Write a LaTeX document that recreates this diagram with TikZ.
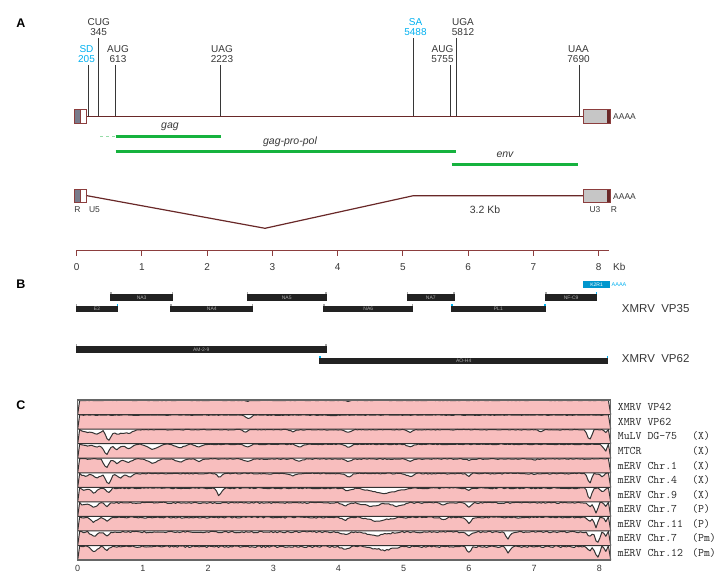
\documentclass[tikz,border=0pt]{standalone}
\usepackage{fontspec}
\setmainfont{Liberation Sans}
\usetikzlibrary{positioning, calc}
\definecolor{rnabrown}{RGB}{105,40,40}
\definecolor{ltrbrown}{RGB}{140,62,62}
\definecolor{orfgreen}{RGB}{22,178,62}
\definecolor{sitecyan}{RGB}{0,176,240}
\definecolor{k2cyan}{RGB}{0,150,205}
\definecolor{txtgrey}{RGB}{55,55,55}
\definecolor{barblack}{RGB}{34,34,34}
\definecolor{trackpink}{RGB}{248,190,190}
\definecolor{ltrgrey}{RGB}{120,124,140}
\tikzset{
  site/.style={draw=txtgrey, line width=0.9pt},
  sitelbl/.style={font=\fontsize{10}{10}\selectfont, text=txtgrey, align=center, inner sep=0pt, anchor=south},
  sdlbl/.style={sitelbl, text=sitecyan},
  rna/.style={draw=rnabrown, line width=1.4pt},
  ltr/.style={draw=ltrbrown, line width=0.8pt},
  orf/.style={draw=orfgreen, line width=3pt},
  orflbl/.style={font=\itshape\fontsize{10.5}{10.5}\selectfont, text=txtgrey, inner sep=0pt},
  small/.style={font=\fontsize{8.5}{9}\selectfont, text=txtgrey, inner sep=0pt},
  ticklbl/.style={font=\fontsize{10}{10}\selectfont, text=txtgrey, inner sep=0pt},
  panel/.style={font=\bfseries\fontsize{12.5}{12.5}\selectfont, inner sep=0pt},
  clonelbl/.style={font=\fontsize{5}{5}\selectfont, text=gray!65, inner sep=0pt},
  virus/.style={font=\fontsize{11.5}{12}\selectfont, text=txtgrey, anchor=west, inner sep=0pt},
  seqlbl/.style={font=\ttfamily\fontsize{11.5}{11.5}\selectfont, text=black!85, anchor=west, inner sep=0pt},
  track/.style={fill=trackpink, draw=black!80, line width=1pt, line join=round},
}
% one clone of panel B: name, x1, x2, top, label, left mark, right mark
\newcommand\clonebar[7]{%
  \fill[barblack] (#2,#4) rectangle (#3,#4+6.5);
  \fill[#6] (#2,#4-2) rectangle ++(1.6,2);
  \fill[#7] (#3,#4-2) rectangle ++(-1.6,2);
  \node[clonelbl] (#1) at ({(#2+#3)/2},{#4+3.4}) {#5};}
% one dip of a similarity track: position (kb), depth (px), half width (kb)
\newcommand\dip[3]{+#2*max(0,1-abs(\x-#1)/#3)}
\newcommand\trackrow[2]{%
  \pgfmathsetmacro\rtop{400+#1*14.55}%
  \pgfmathsetmacro\rbot{\rtop+14.55}%
  \pgfmathsetmacro\rnoise{0.4+0.13*#1}%
  \filldraw[track] (0,\rbot) -- (0.03,\rtop+0.4)
    \foreach \x in {0.06,0.09,...,8.1} { -- (\x,{\rtop+0.3+\rnoise*rnd+min(13.5,0 #2)}) }
    -- (8.14,\rtop+0.4) -- (8.175,\rbot) -- cycle;}

\begin{document}
\begin{tikzpicture}[x=1pt, y=-1pt]
\useasboundingbox (0,0) rectangle (724,578);
\pgfmathsetseed{11}

% A
\node[panel] (lblA) at (21,23) {A};
\draw[rna] (86,116.5) -- (583.3,116.5);
\foreach \px/\top in {88.7/65, 98.7/38.3, 115.7/65, 220.3/65, 413.3/38.3, 450.7/65, 456.7/38.3, 579/65}
  \draw[site] (\px,\top) -- (\px,116.5);
\node[sdlbl] (sd) at (86.5,62.5) {SD\\205};
\node[sitelbl] (cug) at (98.7,36) {CUG\\345};
\node[sitelbl] (aug1) at (118,62.5) {AUG\\613};
\node[sitelbl] (uag) at (222,62.5) {UAG\\2223};
\node[sdlbl] (sa) at (415.5,36) {SA\\5488};
\node[sitelbl] (aug2) at (442.5,62.5) {AUG\\5755};
\node[sitelbl] (uga) at (463,36) {UGA\\5812};
\node[sitelbl] (uaa) at (578.5,62.5) {UAA\\7690};
% LTRs
\fill[ltrgrey] (74.3,109.5) rectangle (80.3,123.5);
\draw[ltr] (74.3,109.5) rectangle (86,123.5);
\draw[ltr] (80.3,109.5) -- (80.3,123.5);
\fill[gray!45] (583.3,109.5) rectangle (606.7,123.5);
\fill[rnabrown] (606.7,109.5) rectangle (610.7,123.5);
\draw[ltr] (583.3,109.5) rectangle (610.7,123.5);
\node[small, anchor=west] (polyA1) at (613,117) {AAAA};
% ORFs
\draw[orfgreen!45, dashed, line width=1pt] (100,136.7) -- (115.7,136.7);
\draw[orf] (115.7,136.7) -- (221,136.7);
\draw[orf] (115.7,151.7) -- (456,151.7);
\draw[orf] (451.7,164.3) -- (578.3,164.3);
\node[orflbl] (gag) at (170,127) {gag};
\node[orflbl] (gpp) at (290,142) {gag-pro-pol};
\node[orflbl] (env) at (505,154.5) {env};
% spliced env mRNA
\draw[rna, line width=1.2pt] (86,195.5) -- (265,228.3) -- (413.3,195.7) -- (583.3,195.7);
\fill[ltrgrey] (74.3,189.3) rectangle (80.3,202);
\draw[ltr] (74.3,189.3) rectangle (86,202);
\draw[ltr] (80.3,189.3) -- (80.3,202);
\fill[gray!45] (583.3,189.5) rectangle (606.7,202.3);
\fill[rnabrown] (606.7,189.5) rectangle (610.7,202.3);
\draw[ltr] (583.3,189.5) rectangle (610.7,202.3);
\node[small, anchor=west] (polyA2) at (613,196.5) {AAAA};
\node[small] (r5) at (77.5,209.5) {R};
\node[small] (u5) at (94.5,209.5) {U5};
\node[small] (u3) at (595,209.5) {U3};
\node[small] (r3) at (614,209.5) {R};
\node[font=\fontsize{10.5}{10.5}\selectfont, text=txtgrey, inner sep=0pt] (len) at (485,210) {3.2 Kb};
% scale
\begin{scope}[xshift=76.7pt, x=65.25pt]
\draw[ltrbrown, line width=1pt] (0,250.3) -- (8.16,250.3);
\foreach \k in {0,...,8} {
  \draw[ltrbrown, line width=1pt] (\k,250.3) -- (\k,256.3);
  \node[ticklbl] (kb\k) at (\k,266.7) {\k};
}
\end{scope}
\node[ticklbl, anchor=west] (kbunit) at (613,266.7) {Kb};

% B
\node[panel] (lblB) at (21,284) {B};
\clonebar{na3}{110}{173.3}{294.3}{NA3}{gray!70}{gray!70}
\clonebar{na5}{246.7}{326.7}{294.3}{NA5}{gray!70}{gray!70}
\clonebar{na7}{406.7}{455}{294.3}{NA7}{gray!70}{gray!70}
\clonebar{nfc9}{545}{597.3}{294.3}{NF-C9}{gray!70}{sitecyan}
\clonebar{e2}{75.7}{118.3}{305.5}{E2}{gray!70}{sitecyan}
\clonebar{na4}{170.3}{253.3}{305.5}{NA4}{gray!70}{gray!70}
\clonebar{na6}{323.3}{413.3}{305.5}{NA6}{gray!70}{gray!70}
\clonebar{pl1}{451}{545.7}{305.5}{PL1}{sitecyan}{sitecyan}
\clonebar{am29}{75.7}{326.7}{346}{AM-2-9}{gray!70}{gray!70}
\clonebar{aoh4}{319}{608.3}{357.5}{AO-H4}{sitecyan}{sitecyan}
\fill[k2cyan] (583.3,281) rectangle (610,287.5);
\node[clonelbl, text=white] (k2r1) at (596.6,284.3) {K2R1};
\node[clonelbl, text=sitecyan, anchor=west, font=\fontsize{5.5}{5.5}\selectfont] (polyA3) at (611.5,284.3) {AAAA};
\node[virus] (vp35) at (621.7,309) {XMRV\ \ VP35};
\node[virus] (vp62) at (621.7,358.3) {XMRV\ \ VP62};

% C
\node[panel] (lblC) at (21,405) {C};
\begin{scope}[xshift=77.7pt, x=65.2pt]
\trackrow{0}{\dip{2.6}{1}{0.05}\dip{4.15}{1}{0.05}}
\trackrow{1}{\dip{2.62}{4}{0.08}\dip{3.9}{0.8}{0.1}}
\trackrow{2}{\dip{0.15}{3}{0.15}\dip{0.3}{4.5}{0.12}\dip{0.47}{12}{0.08}\dip{0.62}{5}{0.14}\dip{0.78}{4}{0.12}\dip{2.57}{2.5}{0.06}\dip{3.3}{2}{0.08}\dip{4.15}{3}{0.1}\dip{5.1}{2.5}{0.08}\dip{7.1}{2}{0.06}\dip{7.85}{11}{0.07}\dip{8.1}{3}{0.05}}
\trackrow{3}{\dip{0.15}{2}{0.1}\dip{0.3}{3}{0.1}\dip{0.44}{11}{0.09}\dip{0.6}{5.5}{0.1}\dip{0.78}{4.5}{0.12}\dip{1.15}{5}{0.17}\dip{1.57}{3.5}{0.14}\dip{1.85}{2.5}{0.1}\dip{2.6}{2.5}{0.1}\dip{3.4}{3}{0.1}\dip{4.15}{3}{0.1}\dip{5.1}{2.5}{0.1}\dip{8.18}{14}{0.16}}
\trackrow{4}{\dip{0.44}{10}{0.08}\dip{0.6}{4.5}{0.1}\dip{0.78}{3.5}{0.12}\dip{1.15}{4.5}{0.14}\dip{1.57}{3.5}{0.12}\dip{1.85}{2.5}{0.08}\dip{2.6}{2.5}{0.1}\dip{3.4}{2.5}{0.1}\dip{4.15}{2.5}{0.1}\dip{5.1}{2}{0.1}\dip{6.0}{1.5}{0.05}\dip{7.0}{1.5}{0.05}}
\trackrow{5}{\dip{0.12}{2.5}{0.12}\dip{0.3}{4.5}{0.12}\dip{0.47}{12}{0.08}\dip{0.65}{4.5}{0.12}\dip{0.8}{3.5}{0.08}\dip{2.17}{4.5}{0.06}\dip{3.3}{2.5}{0.08}\dip{4.15}{3.5}{0.1}\dip{5.1}{3}{0.1}\dip{6.0}{2.5}{0.06}\dip{7.0}{1.5}{0.05}\dip{7.85}{11}{0.06}\dip{8.05}{3.5}{0.05}}
\trackrow{6}{\dip{0.1}{2.5}{0.08}\dip{0.25}{5}{0.1}\dip{0.47}{5}{0.07}\dip{2.17}{8}{0.07}\dip{4.15}{3}{0.1}\dip{4.7}{5.5}{0.4}\dip{6.0}{2.5}{0.06}\dip{7.85}{12}{0.06}\dip{8.05}{4}{0.06}}
\trackrow{7}{\dip{0.1}{2.5}{0.1}\dip{0.25}{5}{0.1}\dip{0.45}{4}{0.07}\dip{4.1}{3}{0.1}\dip{4.5}{3.5}{0.25}\dip{4.9}{3.5}{0.2}\dip{5.6}{2.5}{0.08}\dip{6.0}{5}{0.08}\dip{7.85}{4.5}{0.06}\dip{7.95}{10}{0.06}\dip{8.1}{4}{0.05}}
\trackrow{8}{\dip{0.25}{5}{0.1}\dip{0.45}{4}{0.07}\dip{4.1}{3}{0.1}\dip{4.6}{4}{0.3}\dip{5.6}{2.5}{0.08}\dip{6.0}{6}{0.08}\dip{7.85}{4.5}{0.06}\dip{7.95}{10}{0.06}\dip{8.1}{4}{0.05}}
\trackrow{9}{\dip{0.25}{4.5}{0.1}\dip{0.45}{4}{0.07}\dip{4.1}{3}{0.1}\dip{4.6}{3.5}{0.3}\dip{6.0}{3.5}{0.08}\dip{6.6}{7}{0.07}\dip{7.85}{4.5}{0.06}\dip{7.97}{12}{0.07}\dip{8.1}{4}{0.05}}
\trackrow{10}{\dip{0.25}{5}{0.1}\dip{0.45}{4}{0.07}\dip{4.1}{3}{0.1}\dip{4.7}{3.5}{0.3}\dip{6.0}{6}{0.07}\dip{6.6}{6}{0.07}\dip{7.85}{4.5}{0.06}\dip{7.97}{12}{0.07}\dip{8.1}{4}{0.05}}
\draw[black!60, line width=1.2pt] (0,400) rectangle (8.175,560);
\foreach \k in {0,...,8}
  \node[ticklbl, font=\fontsize{9}{9}\selectfont] (ckb\k) at (\k,568.3) {\k};
\end{scope}
\foreach \i/\nm/\cl in {0/XMRV VP42/, 1/XMRV VP62/, 2/MuLV DG-75/(X), 3/MTCR/(X),
    4/mERV Chr.1/(X), 5/mERV Chr.4/(X), 6/mERV Chr.9/(X), 7/mERV Chr.7/(P),
    8/mERV Chr.11/(P), 9/mERV Chr.7/(Pm), 10/mERV Chr.12/(Pm)} {
  \node[seqlbl] (seq\i) at (617.7,{407.3+\i*14.55}) {\nm};
  \node[seqlbl] (cls\i) at (692,{407.3+\i*14.55}) {\cl};
}
\end{tikzpicture}
\end{document}
